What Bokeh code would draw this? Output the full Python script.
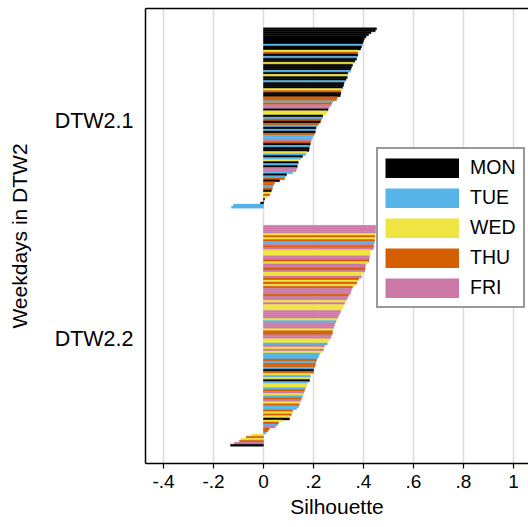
from bokeh.plotting import figure
from bokeh.models import (Range1d, FixedTicker, LinearAxis, Legend, LegendItem,
                          ColumnDataSource)
from bokeh.embed import file_html
from bokeh.resources import INLINE

# ---------------- data ----------------
day_names = ["MON", "TUE", "WED", "THU", "FRI"]
day_colors = ["#000000", "#56B4E9", "#F0E442", "#D55E00", "#CC79A7"]

cluster_labels = ["DTW2.1", "DTW2.2"]

c1_days = ["MON", "MON", "MON", "MON", "MON", "MON", "MON", "MON", "TUE", "MON",
           "MON", "WED", "THU", "MON", "TUE", "MON", "MON", "WED", "MON", "MON",
           "MON", "TUE", "MON", "WED", "MON", "MON", "TUE", "MON", "MON", "MON",
           "WED", "THU", "MON", "MON", "THU", "THU", "TUE", "THU", "FRI", "FRI",
           "MON", "WED", "WED", "MON", "TUE", "THU", "MON", "THU", "TUE", "MON",
           "TUE", "MON", "THU", "TUE", "TUE", "FRI", "THU", "MON", "TUE", "MON",
           "MON", "WED", "TUE", "MON", "TUE", "WED", "MON", "TUE", "MON", "FRI",
           "FRI", "TUE", "MON", "TUE", "THU", "MON", "THU", "THU", "TUE", "THU",
           "MON", "WED", "THU", "WED", "MON", "THU", "MON", "TUE", "TUE"]
c1_sil = [0.452, 0.447, 0.430, 0.420, 0.410, 0.403, 0.400, 0.397, 0.395, 0.392,
          0.388, 0.380, 0.377, 0.377, 0.375, 0.372, 0.365, 0.360, 0.356, 0.352,
          0.349, 0.348, 0.337, 0.336, 0.335, 0.330, 0.325, 0.322, 0.320, 0.316,
          0.313, 0.310, 0.309, 0.307, 0.295, 0.292, 0.278, 0.272, 0.268, 0.262,
          0.258, 0.254, 0.250, 0.237, 0.236, 0.231, 0.227, 0.220, 0.215, 0.210,
          0.209, 0.207, 0.203, 0.197, 0.195, 0.191, 0.189, 0.187, 0.185, 0.183,
          0.182, 0.173, 0.169, 0.156, 0.148, 0.140, 0.139, 0.137, 0.135, 0.133,
          0.130, 0.117, 0.092, 0.087, 0.084, 0.064, 0.044, 0.040, 0.037, 0.035,
          0.031, 0.029, 0.024, 0.016, 0.004, 0.002, -0.012, -0.120, -0.128]

c2_days = ["FRI", "FRI", "FRI", "FRI", "WED", "THU", "WED", "THU", "TUE", "FRI",
           "THU", "FRI", "WED", "WED", "WED", "FRI", "FRI", "THU", "WED", "FRI",
           "FRI", "THU", "FRI", "WED", "WED", "FRI", "THU", "WED", "THU", "WED",
           "THU", "FRI", "FRI", "FRI", "THU", "FRI", "FRI", "WED", "FRI", "WED",
           "WED", "WED", "FRI", "FRI", "FRI", "FRI", "WED", "TUE", "FRI", "FRI",
           "FRI", "WED", "THU", "THU", "FRI", "FRI", "WED", "WED", "TUE", "FRI",
           "WED", "FRI", "WED", "TUE", "TUE", "TUE", "THU", "TUE", "THU", "THU",
           "TUE", "MON", "THU", "WED", "TUE", "WED", "MON", "TUE", "WED", "WED",
           "TUE", "THU", "FRI", "WED", "TUE", "THU", "FRI", "WED", "THU", "TUE",
           "TUE", "THU", "WED", "THU", "WED", "MON", "WED", "THU", "TUE", "FRI",
           "THU", "THU", "TUE", "WED", "THU", "WED", "THU", "FRI", "MON"]
c2_sil = [0.449, 0.449, 0.448, 0.448, 0.446, 0.446, 0.445, 0.444, 0.443, 0.441,
          0.440, 0.439, 0.428, 0.427, 0.426, 0.424, 0.423, 0.422, 0.418, 0.408,
          0.407, 0.406, 0.406, 0.395, 0.393, 0.392, 0.380, 0.378, 0.372, 0.366,
          0.356, 0.352, 0.350, 0.348, 0.340, 0.337, 0.333, 0.330, 0.324, 0.320,
          0.318, 0.314, 0.308, 0.305, 0.300, 0.297, 0.295, 0.290, 0.285, 0.283,
          0.280, 0.278, 0.276, 0.275, 0.271, 0.268, 0.263, 0.257, 0.255, 0.244,
          0.241, 0.240, 0.232, 0.224, 0.221, 0.217, 0.212, 0.210, 0.208, 0.206,
          0.202, 0.200, 0.200, 0.188, 0.188, 0.185, 0.184, 0.176, 0.174, 0.172,
          0.168, 0.164, 0.161, 0.160, 0.156, 0.151, 0.148, 0.144, 0.143, 0.140,
          0.132, 0.116, 0.114, 0.111, 0.107, 0.104, 0.076, 0.060, 0.056, 0.047,
          0.023, 0.017, 0.010, -0.048, -0.070, -0.090, -0.096, -0.116, -0.132]

x_ticks = [-0.4, -0.2, 0.0, 0.2, 0.4, 0.6, 0.8, 1.0]
x_tick_labels = ["-.4", "-.2", "0", ".2", ".4", ".6", ".8", "1"]

# ---------------- layout helpers ----------------
FONT = "Liberation Sans"
pad_top, gap, pad_bottom = 9.5, 8.5, 8.5
color_of = dict(zip(day_names, day_colors))

n1, n2 = len(c1_sil), len(c2_sil)
y1 = [i + 0.5 for i in range(n1)]
y2 = [n1 + gap + j + 0.5 for j in range(n2)]
ys = y1 + y2
vals = c1_sil + c2_sil
days = c1_days + c2_days
cols = [color_of[d] for d in days]
src = ColumnDataSource(dict(y=ys, right=vals, color=cols))

y_bottom = n1 + gap + n2 + pad_bottom
centers = [n1 / 2 + 1.5, n1 + gap + n2 / 2 + 1.5]

p = figure(width=528, height=527, output_backend="svg", toolbar_location=None,
           x_range=Range1d(-0.472, 1.06), y_range=Range1d(y_bottom, -pad_top),
           min_border_left=145, min_border_right=0, min_border_top=8,
           min_border_bottom=64, x_axis_label="Silhouette",
           y_axis_label="Weekdays in DTW2")
p.outline_line_color = None
p.background_fill_color = "white"
p.border_fill_color = "white"

p.hbar(y="y", left=0, right="right", height=1.0, fill_color="color",
       line_color="color", line_width=0.4, source=src)

# grid
p.ygrid.visible = False
p.xgrid.ticker = FixedTicker(ticks=x_ticks)
p.xgrid.grid_line_color = "#dcdcdc"
p.xgrid.grid_line_width = 1.5

# x axis
xa = p.xaxis[0]
xa.ticker = FixedTicker(ticks=x_ticks)
xa.major_label_overrides = dict(zip(x_ticks, x_tick_labels))
xa.minor_tick_line_color = None
xa.major_tick_out = 5
xa.major_tick_in = 0
xa.major_tick_line_width = 1.2
xa.major_tick_line_color = "black"
xa.axis_line_width = 1.5
xa.axis_line_color = "black"
xa.major_label_text_font = FONT
xa.major_label_text_font_size = "19px"
xa.major_label_text_color = "black"
xa.major_label_standoff = 6
xa.axis_label_text_font = FONT
xa.axis_label_text_font_size = "21px"
xa.axis_label_text_font_style = "normal"
xa.axis_label_text_color = "black"
xa.axis_label_standoff = 4

# y axis
ya = p.yaxis[0]
ya.ticker = FixedTicker(ticks=centers)
ya.major_label_overrides = dict(zip(centers, cluster_labels))
ya.minor_tick_line_color = None
ya.major_tick_out = 0
ya.major_tick_in = 0
ya.axis_line_width = 1.5
ya.axis_line_color = "black"
ya.major_label_text_font = FONT
ya.major_label_text_font_size = "21.5px"
ya.major_label_text_color = "black"
ya.major_label_standoff = 12
ya.axis_label_text_font = FONT
ya.axis_label_text_font_size = "21px"
ya.axis_label_text_font_style = "normal"
ya.axis_label_text_color = "black"
ya.axis_label_standoff = 21

# top border line
top = LinearAxis(ticker=FixedTicker(ticks=[]), major_label_text_font_size="0px",
                 major_tick_out=0, major_tick_in=0, minor_tick_out=0,
                 minor_tick_in=0, axis_line_width=1.5, axis_line_color="black")
p.add_layout(top, "above")

# legend (thick lines, drawn off-screen, give full-size swatches)
items = []
for d, c in zip(day_names, day_colors):
    r = p.line(x=[-5, -4], y=[0, 0], line_color=c, line_width=20)
    items.append(LegendItem(label=d, renderers=[r]))
leg = Legend(items=items, location=(231, 155), glyph_width=74, glyph_height=20,
             label_height=20, spacing=7, padding=7, margin=0, label_standoff=11,
             label_text_font=FONT, label_text_font_size="19.5px",
             label_text_color="black",
             border_line_color="#333333", border_line_width=2,
             background_fill_color="white", background_fill_alpha=1.0)
p.add_layout(leg, "center")

open("out.html", "w").write(file_html(p, INLINE))
